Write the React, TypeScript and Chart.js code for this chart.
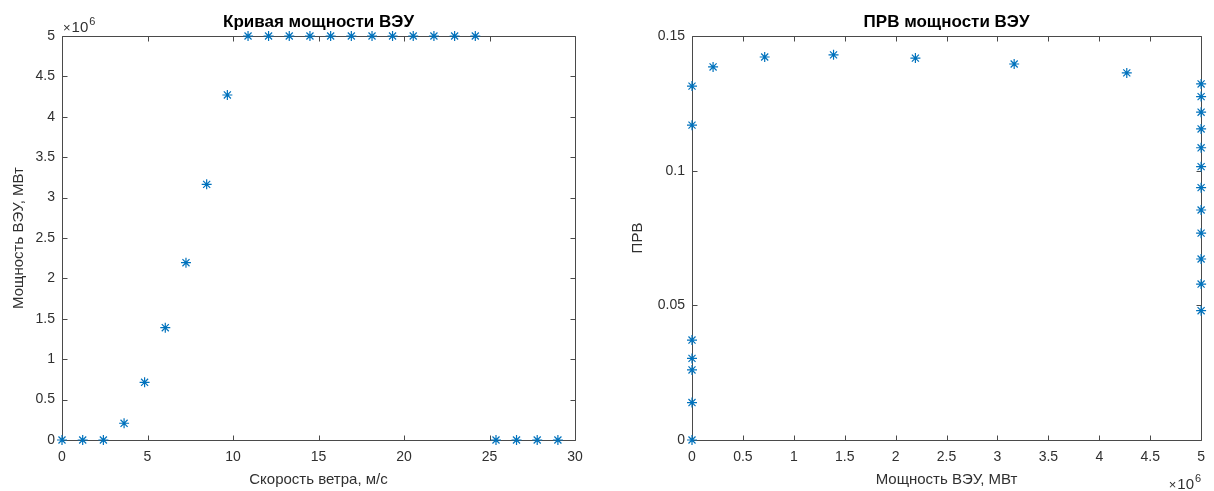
import React, { useEffect, useRef } from 'react';
import { Chart, registerables } from 'chart.js';

Chart.register(...registerables);

// ---- Data ----
const windSpeed = [
  0, 1.21, 2.42, 3.63, 4.83, 6.04, 7.25, 8.46, 9.67, 10.88, 12.08, 13.29, 14.5,
  15.71, 16.92, 18.13, 19.33, 20.54, 21.75, 22.96, 24.17, 25.38, 26.58, 27.79, 29.0,
];
const turbinePower = [
  0, 0, 0, 0.207e6, 0.714e6, 1.39e6, 2.194e6, 3.164e6, 4.27e6,
  5e6, 5e6, 5e6, 5e6, 5e6, 5e6, 5e6, 5e6, 5e6, 5e6, 5e6, 5e6,
  0, 0, 0, 0,
];
const powerPdf = [
  0, 0.1169, 0.1314, 0.1385, 0.1422, 0.143, 0.1418, 0.1396, 0.1363,
  0.1322, 0.1275, 0.1217, 0.1155, 0.1085, 0.1015, 0.0937, 0.0854, 0.0768, 0.0672, 0.0579, 0.048,
  0.0371, 0.0303, 0.026, 0.0139,
];

const leftXTicks = [0, 5, 10, 15, 20, 25, 30];
const leftYTicks = [0, 0.5e6, 1e6, 1.5e6, 2e6, 2.5e6, 3e6, 3.5e6, 4e6, 4.5e6, 5e6];
const rightXTicks = [0, 0.5e6, 1e6, 1.5e6, 2e6, 2.5e6, 3e6, 3.5e6, 4e6, 4.5e6, 5e6];
const rightYTicks = [0, 0.05, 0.1, 0.15];

const leftTitle = 'Кривая мощности ВЭУ';
const leftXLabel = 'Скорость ветра, м/с';
const leftYLabel = 'Мощность ВЭУ, МВт';
const rightTitle = 'ПРВ мощности ВЭУ';
const rightXLabel = 'Мощность ВЭУ, МВт';
const rightYLabel = 'ПРВ';

const FONT = "'Liberation Sans', Arial, Helvetica, sans-serif";
const MARKER = '#0072BD';
const AXIS = '#4a4a4a';
const TEXT = '#303030';

const fmtMega = (v: number) => String(Math.round((v / 1e6) * 10) / 10);
const fmtPlain = (v: number) => String(Math.round(v * 100) / 100);

type Cfg = {
  xs: number[];
  ys: number[];
  xTicks: number[];
  yTicks: number[];
  xFmt: (v: number) => string;
  yFmt: (v: number) => string;
  yWidth: number;
  rightPad: number;
  title: string;
  xLabel: string;
  yLabel: string;
  yLabelX: number;
  expPos: 'top-left' | 'bottom-right';
};

function makeFramePlugin(cfg: Cfg) {
  return {
    id: 'matlabFrame',
    beforeDatasetsDraw(chart: any) {
      const { ctx, chartArea: a, scales } = chart;
      ctx.save();
      ctx.strokeStyle = AXIS;
      ctx.lineWidth = 1;
      const L = Math.round(a.left) + 0.5;
      const R = Math.round(a.right) + 0.5;
      const T = Math.round(a.top) + 0.5;
      const B = Math.round(a.bottom) + 0.5;
      ctx.beginPath();
      ctx.rect(L, T, R - L, B - T);
      ctx.stroke();
      const tl = 5;
      ctx.beginPath();
      for (const v of cfg.xTicks) {
        const x = Math.round(scales.x.getPixelForValue(v)) + 0.5;
        ctx.moveTo(x, B);
        ctx.lineTo(x, B - tl);
        ctx.moveTo(x, T);
        ctx.lineTo(x, T + tl);
      }
      for (const v of cfg.yTicks) {
        const y = Math.round(scales.y.getPixelForValue(v)) + 0.5;
        ctx.moveTo(L, y);
        ctx.lineTo(L + tl, y);
        ctx.moveTo(R, y);
        ctx.lineTo(R - tl, y);
      }
      ctx.stroke();
      ctx.restore();
    },
    afterDraw(chart: any) {
      const { ctx, chartArea: a } = chart;
      const cx = (a.left + a.right) / 2;
      const cy = (a.top + a.bottom) / 2;
      ctx.save();
      // title
      ctx.fillStyle = '#000';
      ctx.font = `bold 17px ${FONT}`;
      ctx.textAlign = 'center';
      ctx.textBaseline = 'alphabetic';
      ctx.fillText(cfg.title, cx, 27);
      // x label
      ctx.fillStyle = TEXT;
      ctx.font = `15px ${FONT}`;
      ctx.textBaseline = 'middle';
      ctx.fillText(cfg.xLabel, cx, 480);
      // y label
      ctx.save();
      ctx.translate(cfg.yLabelX, cy);
      ctx.rotate(-Math.PI / 2);
      ctx.fillText(cfg.yLabel, 0, 0);
      ctx.restore();
      // exponent
      ctx.textBaseline = 'alphabetic';
      ctx.textAlign = 'left';
      const mult = '×';
      const ten = '10';
      if (cfg.expPos === 'top-left') {
        let x = a.left + 1;
        ctx.font = `13px ${FONT}`;
        ctx.fillText(mult, x, 32);
        x += ctx.measureText(mult).width + 1;
        ctx.font = `15px ${FONT}`;
        ctx.fillText(ten, x, 32);
        x += ctx.measureText(ten).width + 1;
        ctx.font = `11px ${FONT}`;
        ctx.fillText('6', x, 25);
      } else {
        ctx.font = `11px ${FONT}`;
        const w6 = ctx.measureText('6').width;
        ctx.font = `15px ${FONT}`;
        const wt = ctx.measureText(ten).width;
        ctx.font = `13px ${FONT}`;
        const wm = ctx.measureText(mult).width;
        let x = a.right - w6 - 1 - wt - 1 - wm;
        ctx.fillText(mult, x, 489);
        x += wm + 1;
        ctx.font = `15px ${FONT}`;
        ctx.fillText(ten, x, 489);
        x += wt + 1;
        ctx.font = `11px ${FONT}`;
        ctx.fillText('6', x, 482);
      }
      ctx.restore();
    },
  };
}

function ScatterPanel({ cfg, left }: { cfg: Cfg; left: number }) {
  const ref = useRef<HTMLCanvasElement | null>(null);
  useEffect(() => {
    if (!ref.current) return;
    const points = cfg.xs.map((x, i) => ({ x, y: cfg.ys[i] }));
    const tickFont = { family: FONT, size: 14 };
    const chart = new Chart(ref.current, {
      type: 'scatter',
      data: {
        datasets: [
          {
            data: points,
            pointStyle: 'star',
            pointRadius: 5,
            pointBorderWidth: 1.2,
            borderColor: MARKER,
            backgroundColor: MARKER,
            clip: false,
          } as any,
        ],
      },
      options: {
        animation: false,
        responsive: false,
        events: [],
        layout: { padding: { left: 0, right: cfg.rightPad, top: 36, bottom: 0 } },
        plugins: { legend: { display: false }, tooltip: { enabled: false }, title: { display: false } },
        scales: {
          x: {
            type: 'linear',
            min: cfg.xTicks[0],
            max: cfg.xTicks[cfg.xTicks.length - 1],
            grid: { display: false, drawTicks: false },
            border: { display: false },
            ticks: {
              autoSkip: false,
              maxRotation: 0,
              padding: 9,
              color: TEXT,
              font: tickFont,
              callback: (v: any) => cfg.xFmt(Number(v)),
            },
            afterBuildTicks: (s: any) => {
              s.ticks = cfg.xTicks.map((value) => ({ value }));
            },
            afterFit: (s: any) => {
              s.height = 51;
            },
          },
          y: {
            type: 'linear',
            min: cfg.yTicks[0],
            max: cfg.yTicks[cfg.yTicks.length - 1],
            grid: { display: false, drawTicks: false },
            border: { display: false },
            ticks: {
              autoSkip: false,
              padding: 7,
              color: TEXT,
              font: tickFont,
              callback: (v: any) => cfg.yFmt(Number(v)),
            },
            afterBuildTicks: (s: any) => {
              s.ticks = cfg.yTicks.map((value) => ({ value }));
            },
            afterFit: (s: any) => {
              s.width = cfg.yWidth;
            },
          },
        },
      },
      plugins: [makeFramePlugin(cfg)],
    });
    return () => chart.destroy();
  }, [cfg]);
  return (
    <div style={{ position: 'absolute', left, top: 0, width: 607, height: 491 }}>
      <canvas ref={ref} width={607} height={491} style={{ display: 'block' }} />
    </div>
  );
}

const leftCfg: Cfg = {
  xs: windSpeed,
  ys: turbinePower,
  xTicks: leftXTicks,
  yTicks: leftYTicks,
  xFmt: (v) => String(v),
  yFmt: fmtMega,
  yWidth: 62,
  rightPad: 32,
  title: leftTitle,
  xLabel: leftXLabel,
  yLabel: leftYLabel,
  yLabelX: 19,
  expPos: 'top-left',
};

const rightCfg: Cfg = {
  xs: turbinePower,
  ys: powerPdf,
  xTicks: rightXTicks,
  yTicks: rightYTicks,
  xFmt: fmtMega,
  yFmt: fmtPlain,
  yWidth: 85,
  rightPad: 11,
  title: rightTitle,
  xLabel: rightXLabel,
  yLabel: rightYLabel,
  yLabelX: 31,
  expPos: 'bottom-right',
};

export default function App() {
  return (
    <div
      style={{
        position: 'fixed',
        left: 0,
        top: 0,
        width: 1214,
        height: 491,
        background: '#fff',
        overflow: 'hidden',
      }}
    >
      <ScatterPanel cfg={leftCfg} left={0} />
      <ScatterPanel cfg={rightCfg} left={607} />
    </div>
  );
}
